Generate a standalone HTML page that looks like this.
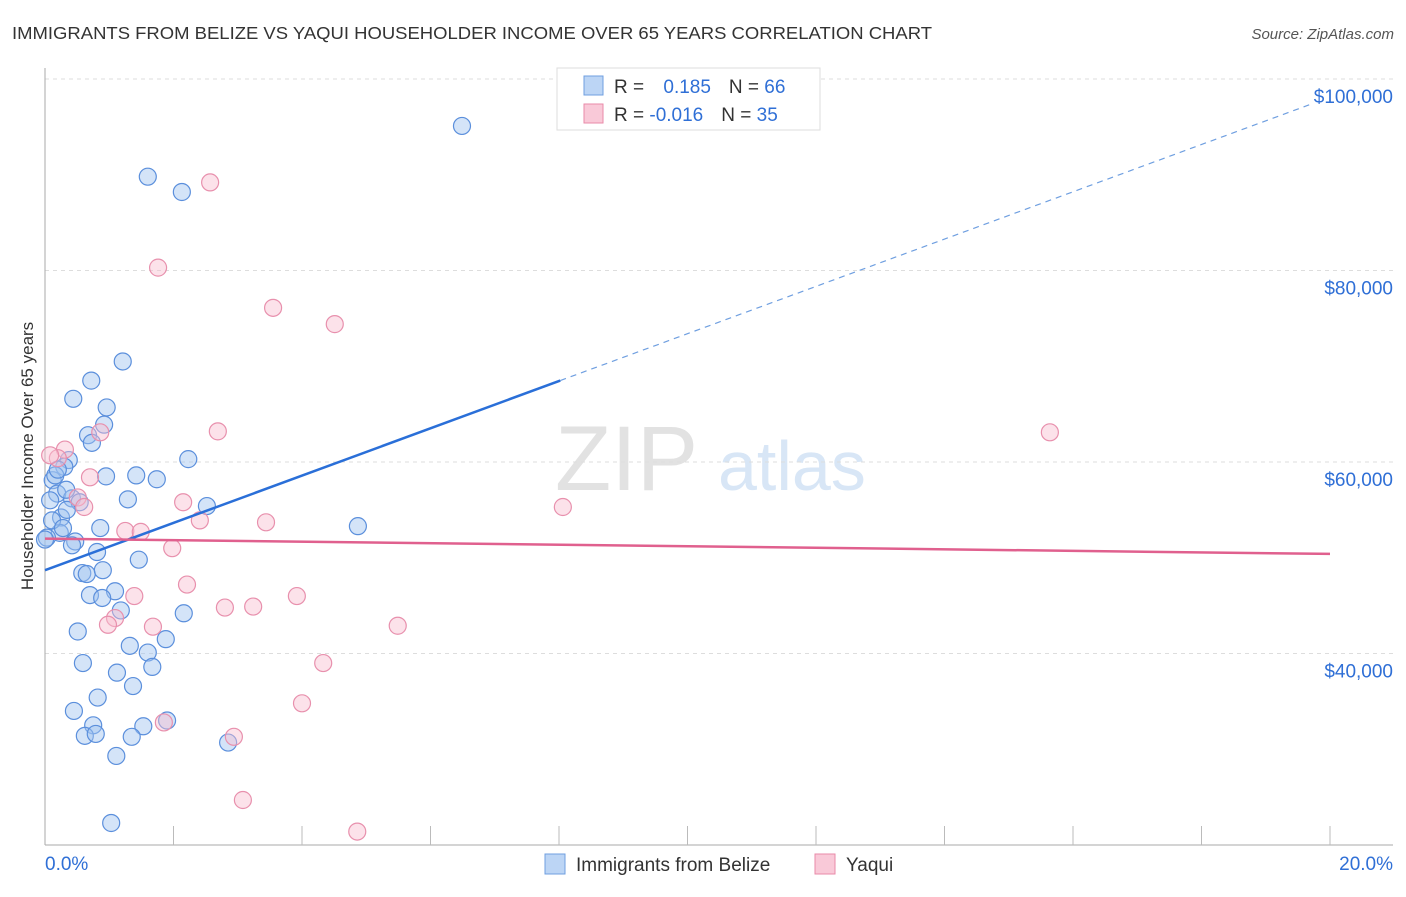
<!DOCTYPE html>
<html><head><meta charset="utf-8"><style>
body{margin:0;background:#fff;font-family:"Liberation Sans",sans-serif}
svg text{font-family:"Liberation Sans",sans-serif}
</style></head><body>
<svg id="c" width="1406" height="892" xmlns="http://www.w3.org/2000/svg">
<text x="12" y="39" font-size="17.5" fill="#333" textLength="920" lengthAdjust="spacingAndGlyphs">IMMIGRANTS FROM BELIZE VS YAQUI HOUSEHOLDER INCOME OVER 65 YEARS CORRELATION CHART</text>
<text x="1394" y="39" font-size="15" fill="#555" text-anchor="end" font-style="italic">Source: ZipAtlas.com</text>
<text x="555" y="490" font-size="92" fill="#e2e2e2" font-family="Liberation Serif">ZIP</text>
<text x="718" y="490" font-size="70" fill="#d8e6f6">atlas</text>
<text transform="translate(33,456) rotate(-90)" font-size="17" fill="#333" text-anchor="middle">Householder Income Over 65 years</text>
<g id="grid"></g><g id="pts"></g><g id="trend"></g>
<g>
<rect x="557" y="68" width="263" height="62" fill="#fff" stroke="#ddd"/>
<rect x="584" y="76" width="19" height="19" fill="#bcd5f5" stroke="#6f9fe0"/>
<rect x="584" y="104" width="19" height="19" fill="#f9c9d8" stroke="#e98aa8"/>
<text x="614" y="93" font-size="19" fill="#333">R = <tspan fill="#2f6fd6" dx="14">0.185</tspan><tspan fill="#333" dx="18">N = </tspan><tspan fill="#2f6fd6">66</tspan></text>
<text x="614" y="121" font-size="19" fill="#333">R = <tspan fill="#2f6fd6">-0.016</tspan><tspan fill="#333" dx="18">N = </tspan><tspan fill="#2f6fd6">35</tspan></text>
</g>
<g>
<rect x="545" y="854" width="20" height="20" fill="#bcd5f5" stroke="#6f9fe0"/>
<text x="576" y="871" font-size="19" fill="#333">Immigrants from Belize</text>
<rect x="815" y="854" width="20" height="20" fill="#f9c9d8" stroke="#e98aa8"/>
<text x="846" y="871" font-size="19" fill="#333">Yaqui</text>
</g>
</svg>
<script>
const yTicks=[40000,60000,80000,100000];
const yTickLabels=["$40,000","$60,000","$80,000","$100,000"];
const xTickLabels=["0.0%","20.0%"];
const blueX=[6.49,1.60,2.13,1.21,0.72,0.44,0.96,0.92,0.67,0.73,0.37,2.23,0.30,0.95,1.42,1.74,0.12,0.19,1.29,0.42,0.54,2.52,0.25,0.34,0.86,4.87,0.23,0.03,0.47,0.81,1.46,0.58,0.65,0.90,1.09,0.70,0.89,1.18,2.16,0.51,1.88,1.32,1.60,0.59,1.67,1.12,1.37,0.82,0.45,0.75,1.90,1.53,0.62,0.79,1.35,2.85,1.11,1.03,0.16,0.08,0.11,0.00,0.20,0.28,0.42,0.33];
const blueY=[95.1,89.8,88.2,70.5,68.5,66.6,65.7,63.9,62.8,62.0,60.2,60.3,59.5,58.5,58.6,58.2,58.1,56.7,56.1,56.2,55.8,55.4,54.2,55.0,53.1,53.3,52.6,52.1,51.7,50.6,49.8,48.4,48.3,48.7,46.5,46.1,45.8,44.5,44.2,42.3,41.5,40.8,40.1,39.0,38.6,38.0,36.6,35.4,34.0,32.5,33.0,32.4,31.4,31.6,31.3,30.7,29.3,22.3,58.6,56.0,53.9,51.9,59.2,53.1,51.3,57.1];
const pinkX=[2.57,1.76,3.55,4.51,15.64,2.69,0.86,0.31,0.20,0.70,0.51,0.61,8.06,2.15,2.41,3.44,1.25,1.49,1.98,2.21,1.39,3.92,2.80,3.24,1.09,0.98,1.68,5.49,4.33,4.00,1.85,2.94,3.08,4.86,0.08];
const pinkY=[89.2,80.3,76.1,74.4,63.1,63.2,63.1,61.3,60.4,58.4,56.3,55.3,55.3,55.8,53.9,53.7,52.8,52.7,51.0,47.2,46.0,46.0,44.8,44.9,43.7,43.0,42.8,42.9,39.0,34.8,32.8,31.3,24.7,21.4,60.7];
const blueTrend=[48.7,2.47];
const pinkTrend=[52.0,-0.08];
const NS="http://www.w3.org/2000/svg";
const sx=v=>45+v*64.25;
const sy=k=>845-(k-20)*9.575;
function mk(t,a,p){const e=document.createElementNS(NS,t);for(const k in a)e.setAttribute(k,a[k]);p.appendChild(e);return e;}
const grid=document.getElementById('grid');
yTicks.forEach((t,i)=>{
 const g=mk('line',{x1:45,x2:1393,y1:sy(t/1000),y2:sy(t/1000),stroke:'#ddd','stroke-dasharray':'4,4'},grid);
 
 
 const tx=mk('text',{x:1393,y:sy(t/1000)+24,'font-size':19,fill:'#2f6fd6','text-anchor':'end'},grid);
 tx.textContent=yTickLabels[i];
 
 
});
let ax=mk('line',{x1:45,x2:45,y1:68,y2:845,stroke:'#aaa'},grid);


ax=mk('line',{x1:45,x2:1393,y1:845,y2:845,stroke:'#aaa'},grid);


for(let i=1;i<=10;i++){const t=mk('line',{x1:sx(i*2),x2:sx(i*2),y1:826,y2:845,stroke:'#bbb'},grid);
 
 }
[[0,'start',45],[20,'end',1393]].forEach((d,i)=>{const t=mk('text',{x:d[2],y:870,'font-size':19,fill:'#2f6fd6','text-anchor':d[1]},grid);t.textContent=xTickLabels[i];
 
 });
const pts=document.getElementById('pts');
blueX.forEach((x,i)=>{const c=mk('circle',{cx:sx(x),cy:sy(blueY[i]),r:8.5,fill:'rgba(160,196,240,0.45)',stroke:'#5b8fdc','stroke-width':1.2},pts);
 
 });
pinkX.forEach((x,i)=>{const c=mk('circle',{cx:sx(x),cy:sy(pinkY[i]),r:8.5,fill:'rgba(248,190,208,0.45)',stroke:'#e890ad','stroke-width':1.2},pts);
 
 });
const tr=document.getElementById('trend');
const bt=x=>blueTrend[0]+blueTrend[1]*x, pt=x=>pinkTrend[0]+pinkTrend[1]*x;
let l=mk('line',{x1:sx(0),y1:sy(bt(0)),x2:sx(8.02),y2:sy(bt(8.02)),stroke:'#2a6fd8','stroke-width':2.5},tr);


l=mk('line',{x1:sx(8.02),y1:sy(bt(8.02)),x2:sx(19.7),y2:sy(bt(19.7)),stroke:'#6f9fe0','stroke-width':1.2,'stroke-dasharray':'6,5'},tr);


l=mk('line',{x1:sx(0),y1:sy(pt(0)),x2:sx(20),y2:sy(pt(20)),stroke:'#e0608e','stroke-width':2.5},tr);


</script>
</body></html>
